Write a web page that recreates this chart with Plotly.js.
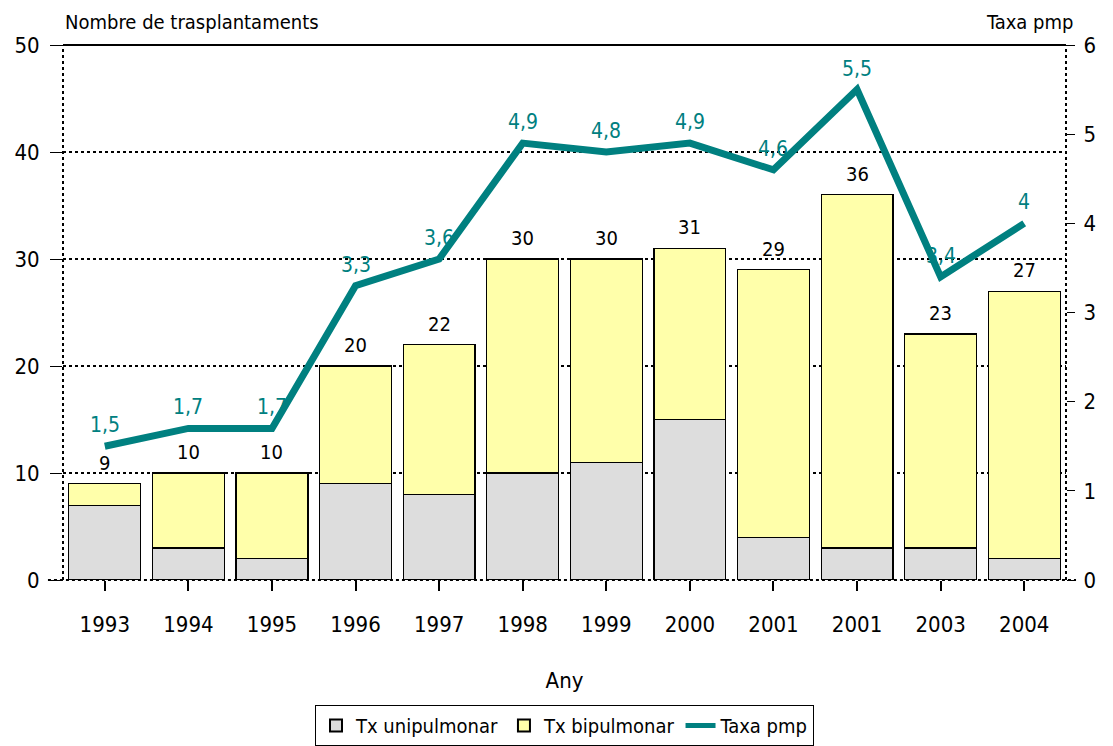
<!DOCTYPE html>
<html><head><meta charset="utf-8">
<script src="https://cdn.plot.ly/plotly-3.0.1.min.js"></script>
<style>body{margin:0;background:#fff}#c{width:1113px;height:746px}</style>
</head><body><div id="c"></div>
<script>
const years = ['1993','1994','1995','1996','1997','1998','1999','2000','2001','2001','2003','2004'];
const uni = [7,3,2,9,8,10,11,15,4,3,3,2];
const bi = [2,7,8,11,14,20,19,16,25,33,20,25];
const totals = [9,10,10,20,22,30,30,31,29,36,23,27];
const taxa = [1.5,1.7,1.7,3.3,3.6,4.9,4.8,4.9,4.6,5.5,3.4,4.0];
const leftTicks = [0,10,20,30,40,50];
const rightTicks = [0,1,2,3,4,5,6];

const xs = years.map((_, i) => i);
const F = '"DejaVu Sans Condensed", "Liberation Sans Narrow", Arial, sans-serif';
const teal = '#008080';

const traces = [
  {type:'bar', name:'Tx unipulmonar', x:xs, y:uni, marker:{color:'#dddddd', line:{color:'#000', width:1.2}}, width:0.86, hoverinfo:'y'},
  {type:'bar', name:'Tx bipulmonar', x:xs, y:bi, marker:{color:'#ffffaa', line:{color:'#000', width:1.2}}, width:0.86, hoverinfo:'y'},
  {type:'scatter', mode:'lines', name:'Taxa pmp', x:xs, y:taxa, yaxis:'y2',
   line:{color:teal, width:7}, cliponaxis:false}
];

const ann = totals.map((t, i) => ({x:i, y:t, xref:'x', yref:'y', text:String(t), showarrow:false,
  yshift:21, font:{size:20, color:'#000', family:F}}));
taxa.forEach((v, i) => ann.push({x:i, y:v, xref:'x', yref:'y2', text:String(v).replace('.', ','), showarrow:false,
  yshift:21, font:{size:21, color:teal, family:F}}));
ann.push({x:0, y:1, xref:'paper', yref:'paper', xanchor:'left', yanchor:'bottom', yshift:9, text:'Nombre de trasplantaments', showarrow:false, font:{size:20, family:F, color:'#000'}});
ann.push({x:1.009, y:1, xref:'paper', yref:'paper', xanchor:'right', yanchor:'bottom', yshift:9, text:'Taxa pmp', showarrow:false, font:{size:20, family:F, color:'#000'}});

const layout = {
  width:1113, height:746,
  margin:{l:63, r:47, t:45, b:166},
  paper_bgcolor:'#fff', plot_bgcolor:'#fff',
  font:{family:F, size:22, color:'#000'},
  barmode:'stack', bargap:0.14,
  showlegend:true,
  legend:{orientation:'h', traceorder:'normal', x:0.5, xanchor:'center', yref:'container', y:0.0, yanchor:'bottom',
    bordercolor:'#000', borderwidth:1, font:{size:20, family:F}, itemwidth:30, itemsizing:'constant', tracegroupgap:0},
  xaxis:{range:[-0.5, 11.5], tickvals:xs, ticktext:years, ticks:'outside', ticklen:10, tickcolor:'#000', tickwidth:1.5,
    showgrid:false, zeroline:false, showline:false, tickfont:{size:22, family:F}, ticklabelstandoff:15, automargin:false,
    title:{text:'Any', font:{size:22, family:F}, standoff:36}},
  yaxis:{range:[0,50], tickvals:leftTicks, ticks:'outside', ticklen:12, tickcolor:'#000', showgrid:true, automargin:false,
    gridcolor:'#000', griddash:'dot', gridwidth:1.5, zeroline:false, showline:false, tickfont:{size:22, family:F}, ticklabelstandoff:6},
  yaxis2:{range:[0,6], tickvals:rightTicks, overlaying:'y', side:'right', ticks:'outside', ticklen:8, tickcolor:'#000', automargin:false,
    showgrid:false, zeroline:false, showline:false, tickfont:{size:22, family:F}, ticklabelstandoff:4},
  annotations:ann,
  shapes:[
    {type:'line', xref:'paper', yref:'paper', x0:0, x1:1, y0:1, y1:1, line:{color:'#000', width:2}},
    {type:'line', xref:'paper', yref:'paper', x0:0, x1:0, y0:0, y1:1, line:{color:'#000', width:2, dash:'dot'}},
    {type:'line', xref:'paper', yref:'paper', x0:1, x1:1, y0:0, y1:1, line:{color:'#000', width:2, dash:'dot'}},
    {type:'line', xref:'paper', yref:'paper', x0:-0.015, x1:1.01, y0:0, y1:0, line:{color:'#000', width:2, dash:'dot'}}
  ]
};
Plotly.newPlot('c', traces, layout, {displayModeBar:false});
</script></body></html>
